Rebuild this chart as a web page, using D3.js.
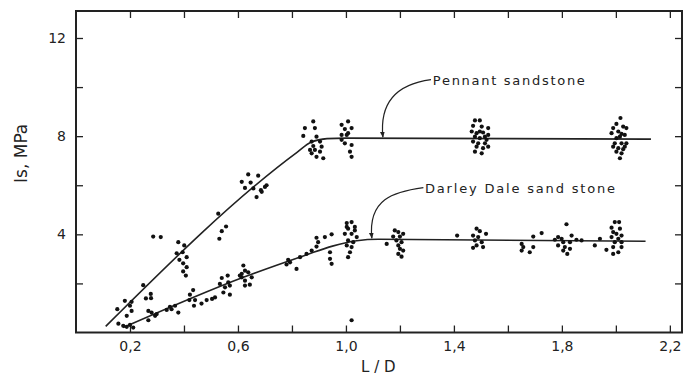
<!DOCTYPE html>
<html>
<head>
<meta charset="utf-8">
<script src="https://cdn.jsdelivr.net/npm/d3@7/dist/d3.min.js"></script>
<style>
  body { margin: 0; background: #fff; }
  text { font-family: "DejaVu Sans", sans-serif; fill: #222; }
</style>
</head>
<body>
<svg id="chart"></svg>
<script>
const width = 687;
const height = 378;

// tick values
const xTicks = [0.2, 0.4, 0.6, 0.8, 1.0, 1.2, 1.4, 1.6, 1.8, 2.0, 2.2];
const xLabels = [0.2, 0.6, 1.0, 1.4, 1.8, 2.2];
const yTicks = [2, 4, 6, 8, 10, 12];
const yLabels = [4, 8, 12];

// fitted curves (L/D, Is)
const pennantCurve = [[0.11, 0.25], [0.82, 7.35], [0.87, 7.75], [0.93, 7.9], [1.0, 7.92], [2.13, 7.88]];
const darleyCurve = [[0.175, 0.2], [0.62, 2.25], [0.85, 3.15], [0.95, 3.52], [1.04, 3.74], [1.12, 3.8], [2.11, 3.72]];

// measured points, Pennant sandstone
const pennantPts = [
  [0.286, 3.91], [0.314, 3.89],
  [0.379, 3.68], [0.401, 3.55], [0.373, 3.23], [0.395, 3.27], [0.41, 3.07], [0.383, 2.96], [0.397, 2.82], [0.41, 2.66], [0.397, 2.49], [0.407, 2.32],
  [0.249, 1.93], [0.277, 1.57], [0.259, 1.39], [0.278, 1.40],
  [0.181, 1.29], [0.206, 1.25], [0.153, 0.95], [0.188, 0.68], [0.206, 0.88], [0.2, 1.09],
  [0.638, 6.44], [0.675, 6.39], [0.614, 6.14], [0.647, 6.11], [0.626, 5.89], [0.657, 5.87], [0.685, 5.80], [0.706, 6.0], [0.688, 5.73], [0.669, 5.52], [0.7, 5.93],
  [0.527, 4.84], [0.556, 4.32], [0.54, 4.13], [0.531, 3.82],
  [0.879, 8.60], [0.848, 8.33], [0.842, 8.01], [0.885, 8.33], [0.891, 7.98], [0.873, 7.78], [0.904, 7.78], [0.91, 7.57], [0.879, 7.60], [0.873, 7.30], [0.891, 7.16], [0.916, 7.10], [0.904, 7.37], [0.867, 7.44], [0.885, 7.44],
  [0.984, 8.46], [1.008, 8.60], [0.996, 8.29], [1.021, 8.33], [1.003, 8.05], [0.984, 7.85], [0.996, 7.71], [1.021, 7.64], [1.015, 7.37], [1.021, 7.16], [1.008, 8.12], [0.984, 8.05],
  [1.478, 8.64], [1.496, 8.64], [1.471, 8.42], [1.503, 8.39], [1.527, 8.33], [1.466, 8.19], [1.484, 8.12], [1.508, 8.15], [1.527, 8.05], [1.478, 7.98], [1.496, 7.92], [1.521, 7.85], [1.471, 7.78], [1.49, 7.71], [1.515, 7.71], [1.484, 7.57], [1.508, 7.51], [1.478, 7.37], [1.503, 7.30], [1.527, 7.57], [1.496, 8.19], [1.515, 7.98],
  [2.017, 8.74], [2.002, 8.50], [2.027, 8.39], [1.99, 8.33], [2.039, 8.33], [2.009, 8.19], [2.021, 8.09], [1.984, 8.12], [2.033, 8.05], [2.002, 7.92], [2.015, 7.98], [1.996, 7.71], [2.021, 7.71], [2.039, 7.71], [1.99, 7.57], [2.009, 7.51], [2.027, 7.47], [2.002, 7.37], [2.021, 7.30], [2.015, 7.10], [2.033, 7.57]
];

// measured points, Darley Dale sandstone
const darleyPts = [
  [0.157, 0.36], [0.175, 0.27], [0.188, 0.23], [0.2, 0.31], [0.212, 0.2],
  [0.268, 0.88], [0.28, 0.81], [0.299, 0.75], [0.268, 0.5], [0.293, 0.68],
  [0.348, 1.05], [0.354, 0.95], [0.367, 1.09], [0.379, 0.81], [0.336, 0.92],
  [0.422, 1.54], [0.434, 1.73], [0.42, 1.32], [0.441, 1.32], [0.465, 1.18], [0.484, 1.32], [0.437, 1.09], [0.515, 1.43], [0.504, 1.37],
  [0.54, 2.22], [0.562, 2.32], [0.533, 1.98], [0.552, 1.84], [0.57, 1.91], [0.546, 1.63], [0.57, 1.54], [0.564, 2.04],
  [0.62, 2.73], [0.626, 2.52], [0.614, 2.39], [0.638, 2.45], [0.651, 2.25], [0.626, 2.11], [0.614, 2.25], [0.626, 1.91], [0.644, 1.95], [0.607, 2.32],
  [0.786, 2.96], [0.78, 2.77], [0.817, 2.59], [0.793, 2.86], [0.83, 3.07], [0.854, 3.2], [0.873, 3.34],
  [0.891, 3.86], [0.897, 3.68], [0.891, 3.50], [0.922, 3.89], [0.947, 4.0], [0.941, 3.27], [0.941, 3.0], [0.947, 2.80],
  [1.003, 4.46], [1.021, 4.50], [1.008, 4.23], [1.033, 4.30], [0.996, 4.02], [1.021, 4.02], [1.04, 3.89], [1.008, 3.75], [1.027, 3.68], [1.003, 3.55], [1.021, 3.48], [1.015, 3.27], [1.008, 3.07], [1.033, 4.16], [1.003, 4.30],
  [1.021, 0.5],
  [1.181, 4.16], [1.194, 4.09], [1.175, 3.91], [1.2, 3.91], [1.187, 3.75], [1.206, 3.68], [1.194, 3.55], [1.2, 3.41], [1.212, 3.34], [1.194, 3.2], [1.206, 3.09], [1.151, 3.61], [1.212, 4.02],
  [1.412, 3.95],
  [1.484, 4.23], [1.496, 4.13], [1.471, 3.95], [1.49, 3.89], [1.478, 3.75], [1.503, 3.68], [1.484, 3.55], [1.508, 3.48], [1.471, 3.45], [1.519, 4.02],
  [1.651, 3.61], [1.657, 3.48], [1.651, 3.34], [1.681, 3.27], [1.694, 3.48], [1.694, 3.91], [1.725, 4.05],
  [1.817, 4.41], [1.836, 3.95], [1.786, 3.89], [1.799, 3.82], [1.774, 3.78], [1.805, 3.68], [1.83, 3.68], [1.786, 3.55], [1.811, 3.48], [1.83, 3.41], [1.805, 3.34], [1.82, 3.2], [1.854, 3.78],
  [1.996, 4.5], [2.012, 4.5], [1.984, 4.27], [2.015, 4.23], [1.99, 4.09], [2.002, 4.02], [2.021, 3.95], [1.984, 3.89], [2.009, 3.82], [1.996, 3.68], [2.021, 3.68], [1.941, 3.82], [1.922, 3.55], [1.965, 3.37], [1.99, 3.48], [2.009, 3.27], [2.021, 3.48], [1.99, 3.2], [1.873, 3.75]
];

const margin = {top: 11, right: 5, bottom: 46, left: 76};

const svg = d3.select('#chart')
    .attr('width', width)
    .attr('height', height);

const x = d3.scaleLinear().domain([0, 2.245]).range([margin.left, width - margin.right]);
const y = d3.scaleLinear().domain([0, 13.1]).range([height - margin.bottom + 0.5, margin.top]);

const fmt = d => xLabels.some(v => Math.abs(v - d) < 1e-6) ? d3.format('.1f')(d).replace('.', ',') : '';

// axes, ticks pointing inward
svg.append('g')
    .attr('transform', `translate(0,${y(0)})`)
    .call(d3.axisBottom(x).tickValues(xTicks).tickSize(-7).tickPadding(9).tickFormat(fmt))
    .attr('font-size', 14);

svg.append('g')
    .attr('transform', `translate(0,${margin.top})`)
    .call(d3.axisTop(x).tickValues(xTicks).tickSize(-7).tickFormat(''));

svg.append('g')
    .attr('transform', `translate(${margin.left},0)`)
    .call(d3.axisLeft(y).tickValues(yTicks).tickSize(-7).tickPadding(10)
        .tickFormat(d => yLabels.includes(d) ? d : ''))
    .attr('font-size', 14);

svg.append('g')
    .attr('transform', `translate(${width - margin.right},0)`)
    .call(d3.axisRight(y).tickValues(yTicks).tickSize(-7).tickFormat(''));

svg.selectAll('.domain').remove();
svg.selectAll('.tick line').attr('stroke', '#222').attr('stroke-width', 1.3);
svg.selectAll('.tick text').attr('fill', '#222').attr('font-family', '"DejaVu Sans", sans-serif');

// frame
svg.append('rect')
    .attr('x', x(0))
    .attr('y', y(13.1))
    .attr('width', x(2.245) - x(0))
    .attr('height', y(0) - y(13.1))
    .attr('fill', 'none')
    .attr('stroke', '#222')
    .attr('stroke-width', 2);

// axis titles
svg.append('text')
    .attr('x', x(1.12))
    .attr('y', height - 6)
    .attr('text-anchor', 'middle')
    .attr('font-size', 15)
    .text('L / D');

svg.append('text')
    .attr('transform', `translate(27,${y(7.3)}) rotate(-90)`)
    .attr('text-anchor', 'middle')
    .attr('font-size', 17)
    .text('Is, MPa');

// fitted lines
const line = d3.line()
    .x(d => x(d[0]))
    .y(d => y(d[1]))
    .curve(d3.curveMonotoneX);

svg.append('path').datum(pennantCurve)
    .attr('d', line).attr('fill', 'none').attr('stroke', '#222').attr('stroke-width', 1.6);
svg.append('path').datum(darleyCurve)
    .attr('d', line).attr('fill', 'none').attr('stroke', '#222').attr('stroke-width', 1.6);

// scatter
svg.append('g').selectAll('circle')
    .data(pennantPts.concat(darleyPts))
    .join('circle')
    .attr('cx', d => x(d[0]))
    .attr('cy', d => y(d[1]))
    .attr('r', 2.1)
    .attr('fill', '#111');

// labels with leader curves
svg.append('defs').append('marker')
    .attr('id', 'arr')
    .attr('viewBox', '0 0 10 10')
    .attr('refX', 9).attr('refY', 5)
    .attr('markerWidth', 5).attr('markerHeight', 5)
    .attr('orient', 'auto')
    .append('path').attr('d', 'M0,1 L10,5 L0,9 z').attr('fill', '#222');

function leader(tx, ty, ex, ey) {
    const p = d3.path();
    p.moveTo(x(tx), y(ty));
    p.bezierCurveTo(x(tx) - 30, y(ty) + 4, x(ex) - 4, y(ey) - 40, x(ex), y(ey) - 1);
    return p.toString();
}

svg.append('path')
    .attr('d', leader(1.315, 10.3, 1.137, 7.92))
    .attr('fill', 'none').attr('stroke', '#222').attr('stroke-width', 1.2)
    .attr('marker-end', 'url(#arr)');
svg.append('text')
    .attr('x', x(1.322)).attr('y', y(10.27) + 5)
    .attr('font-size', 13)
    .attr('textLength', 152).attr('lengthAdjust', 'spacing')
    .text('Pennant sandstone');

svg.append('path')
    .attr('d', leader(1.287, 5.9, 1.096, 3.8))
    .attr('fill', 'none').attr('stroke', '#222').attr('stroke-width', 1.2)
    .attr('marker-end', 'url(#arr)');
svg.append('text')
    .attr('x', x(1.293)).attr('y', y(5.88) + 5)
    .attr('font-size', 13)
    .attr('textLength', 190).attr('lengthAdjust', 'spacing')
    .text('Darley Dale sand stone');
</script>
</body>
</html>
